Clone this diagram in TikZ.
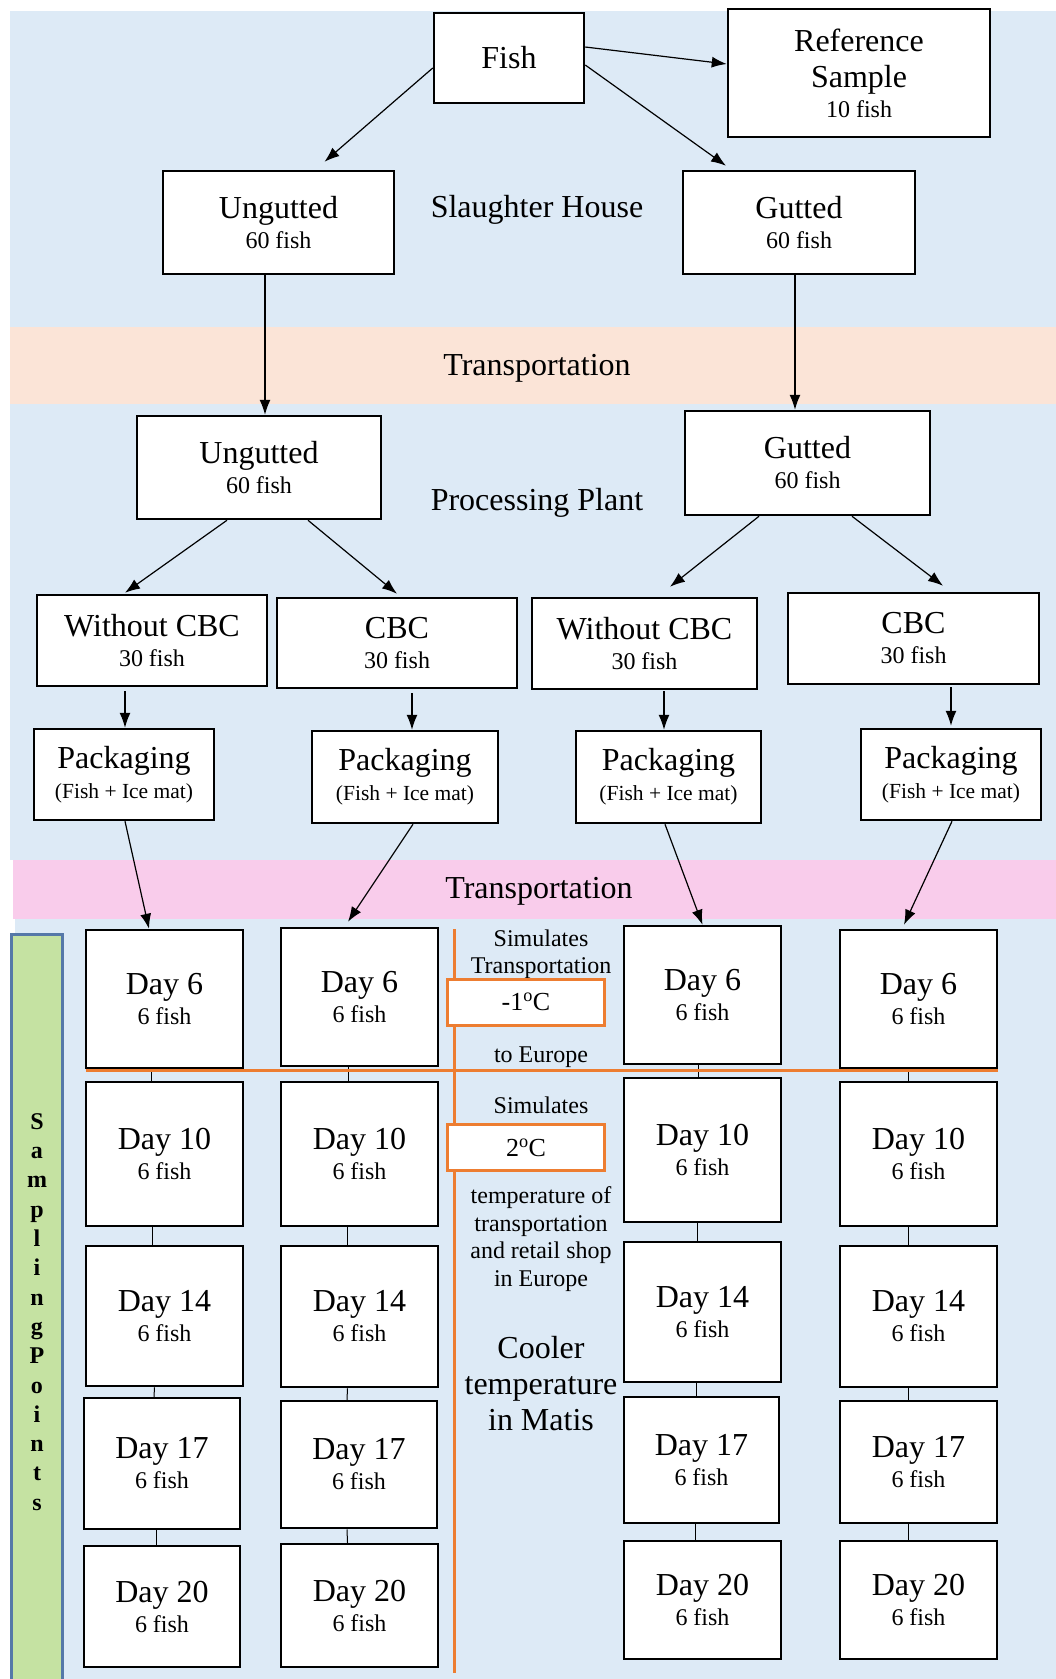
\documentclass[tikz,border=0pt]{standalone}
\usepackage{fontspec}
\setmainfont{Liberation Serif}
\usetikzlibrary{arrows.meta, calc}

\definecolor{bandblue}{HTML}{DDEAF6}
\definecolor{bandpeach}{HTML}{FBE4D7}
\definecolor{bandpink}{HTML}{F9CCEB}
\definecolor{sampgreen}{HTML}{C5E2A2}
\definecolor{sampborder}{HTML}{5578A8}
\definecolor{templine}{HTML}{ED7D31}

\newcommand{\bigtxt}{\fontsize{32}{36}\selectfont}
\newcommand{\smalltxt}{\fontsize{24}{28}\selectfont}
\newcommand{\packtxt}{\fontsize{21.5}{26}\selectfont}
\newcommand{\notetxt}{\fontsize{24}{27.5}\selectfont}

\tikzset{
    my-box/.style={
        draw, line width=2.5pt, fill=white, align=center, inner sep=0pt, font=\bigtxt
    },
    my-temp-box/.style={
        draw=templine, line width=3pt, fill=white, align=center, inner sep=0pt,
        minimum width=157pt, minimum height=46pt, font=\fontsize{26}{30}\selectfont
    },
    my-arrow/.style={
        -{Latex[length=15pt, width=11pt]}, line width=1.2pt
    },
    my-link/.style={
        line width=1pt
    },
    my-note/.style={
        align=center, inner sep=0pt, font=\notetxt
    },
    my-band-label/.style={
        inner sep=0pt, font=\bigtxt
    },
}

\begin{document}
\begin{tikzpicture}[x=1pt, y=-1pt]

        \useasboundingbox (0,0) rectangle (1056,1679);

        % BACKGROUND BANDS ----------------------------------------------------------------------------
        \fill[bandblue]  (10,11)  rectangle (1056,327);
        \fill[bandpeach] (10,327) rectangle (1056,404);
        \fill[bandblue]  (10,404) rectangle (1056,860);
        \fill[bandpink]  (13,860) rectangle (1056,919);
        \fill[bandblue]  (15,919) rectangle (1056,1679);
        \filldraw[fill=sampgreen, draw=sampborder, line width=3pt] (11,934) rectangle (62,1690);

        % BAND LABELS
        \node[my-band-label] (SLAUGHTER)  at (537,210) {Slaughter House};
        \node[my-band-label] (TRANSPORT1) at (537,368) {Transportation};
        \node[my-band-label] (PROCESSING) at (537,503) {Processing Plant};
        \node[my-band-label] (TRANSPORT2) at (539,891) {Transportation};

        % SLAUGHTER HOUSE -----------------------------------------------------------------------------
        \node[my-box, minimum width=150pt, minimum height=90pt]  (FISH) at (509,58)    {Fish};
        \node[my-box, minimum width=262pt, minimum height=128pt] (REF)  at (859,73)    {Reference\\Sample\\[-6pt]{\smalltxt 10 fish}};
        \node[my-box, minimum width=231pt, minimum height=103pt] (UNG1) at (278.5,222.5) {Ungutted\\[-6pt]{\smalltxt 60 fish}};
        \node[my-box, minimum width=232pt, minimum height=103pt] (GUT1) at (799,222.5) {Gutted\\[-6pt]{\smalltxt 60 fish}};

        % PROCESSING PLANT ----------------------------------------------------------------------------
        \node[my-box, minimum width=244pt, minimum height=103pt] (UNG2)  at (259,467.5)   {Ungutted\\[-6pt]{\smalltxt 60 fish}};
        \node[my-box, minimum width=245pt, minimum height=104pt] (GUT2)  at (807.5,463)   {Gutted\\[-6pt]{\smalltxt 60 fish}};
        \node[my-box, minimum width=230pt, minimum height=91pt]  (WCBC1) at (152,640.5)   {Without CBC\\[-6pt]{\smalltxt 30 fish}};
        \node[my-box, minimum width=240pt, minimum height=90pt]  (CBC1)  at (397,643)     {CBC\\[-6pt]{\smalltxt 30 fish}};
        \node[my-box, minimum width=225pt, minimum height=91pt]  (WCBC2) at (644.5,643.5) {Without CBC\\[-6pt]{\smalltxt 30 fish}};
        \node[my-box, minimum width=251pt, minimum height=91pt]  (CBC2)  at (913.5,638.5) {CBC\\[-6pt]{\smalltxt 30 fish}};

        % PACKAGING
        \node[my-box, minimum width=180pt, minimum height=91pt] (PACK1) at (124,774.5)   {Packaging\\[-6pt]{\packtxt (Fish + Ice mat)}};
        \node[my-box, minimum width=186pt, minimum height=92pt] (PACK2) at (405,777)     {Packaging\\[-6pt]{\packtxt (Fish + Ice mat)}};
        \node[my-box, minimum width=185pt, minimum height=92pt] (PACK3) at (668.5,777)   {Packaging\\[-6pt]{\packtxt (Fish + Ice mat)}};
        \node[my-box, minimum width=180pt, minimum height=91pt] (PACK4) at (951,774.5)   {Packaging\\[-6pt]{\packtxt (Fish + Ice mat)}};

        % SAMPLING POINTS - COLUMN A (UNGUTTED, WITHOUT CBC)
        \node[my-box, minimum width=157pt, minimum height=138pt] (D6A)  at (164.5,999)    {Day 6\\[-6pt]{\smalltxt 6 fish}};
        \node[my-box, minimum width=157pt, minimum height=144pt] (D10A) at (164.5,1154)   {Day 10\\[-6pt]{\smalltxt 6 fish}};
        \node[my-box, minimum width=157pt, minimum height=140pt] (D14A) at (164.5,1316)   {Day 14\\[-6pt]{\smalltxt 6 fish}};
        \node[my-box, minimum width=156pt, minimum height=131pt] (D17A) at (162,1463.5)   {Day 17\\[-6pt]{\smalltxt 6 fish}};
        \node[my-box, minimum width=156pt, minimum height=121pt] (D20A) at (162,1606.5)   {Day 20\\[-6pt]{\smalltxt 6 fish}};

        % SAMPLING POINTS - COLUMN B (UNGUTTED, CBC)
        \node[my-box, minimum width=157pt, minimum height=138pt] (D6B)  at (359.5,997)    {Day 6\\[-6pt]{\smalltxt 6 fish}};
        \node[my-box, minimum width=157pt, minimum height=144pt] (D10B) at (359.5,1154)   {Day 10\\[-6pt]{\smalltxt 6 fish}};
        \node[my-box, minimum width=157pt, minimum height=141pt] (D14B) at (359.5,1316.5) {Day 14\\[-6pt]{\smalltxt 6 fish}};
        \node[my-box, minimum width=156pt, minimum height=127pt] (D17B) at (359,1464.5)   {Day 17\\[-6pt]{\smalltxt 6 fish}};
        \node[my-box, minimum width=157pt, minimum height=123pt] (D20B) at (359.5,1605.5) {Day 20\\[-6pt]{\smalltxt 6 fish}};

        % SAMPLING POINTS - COLUMN C (GUTTED, WITHOUT CBC)
        \node[my-box, minimum width=157pt, minimum height=138pt] (D6C)  at (702.5,995)    {Day 6\\[-6pt]{\smalltxt 6 fish}};
        \node[my-box, minimum width=157pt, minimum height=144pt] (D10C) at (702.5,1150)   {Day 10\\[-6pt]{\smalltxt 6 fish}};
        \node[my-box, minimum width=157pt, minimum height=140pt] (D14C) at (702.5,1312)   {Day 14\\[-6pt]{\smalltxt 6 fish}};
        \node[my-box, minimum width=155pt, minimum height=126pt] (D17C) at (701.5,1460)   {Day 17\\[-6pt]{\smalltxt 6 fish}};
        \node[my-box, minimum width=157pt, minimum height=118pt] (D20C) at (702.5,1600)   {Day 20\\[-6pt]{\smalltxt 6 fish}};

        % SAMPLING POINTS - COLUMN D (GUTTED, CBC)
        \node[my-box, minimum width=157pt, minimum height=138pt] (D6D)  at (918.5,999)    {Day 6\\[-6pt]{\smalltxt 6 fish}};
        \node[my-box, minimum width=157pt, minimum height=144pt] (D10D) at (918.5,1154)   {Day 10\\[-6pt]{\smalltxt 6 fish}};
        \node[my-box, minimum width=157pt, minimum height=141pt] (D14D) at (918.5,1316.5) {Day 14\\[-6pt]{\smalltxt 6 fish}};
        \node[my-box, minimum width=157pt, minimum height=122pt] (D17D) at (918.5,1462)   {Day 17\\[-6pt]{\smalltxt 6 fish}};
        \node[my-box, minimum width=157pt, minimum height=118pt] (D20D) at (918.5,1600)   {Day 20\\[-6pt]{\smalltxt 6 fish}};

        % ARROWS - SLAUGHTER HOUSE
        \draw[my-arrow] ($(FISH.east) + (0,-11)$) -- ($(REF.west) + (0,-9)$);
        \draw[my-arrow] ($(FISH.west) + (0,10)$)  -- ($(UNG1.north) + (46,-8)$);
        \draw[my-arrow] ($(FISH.east) + (0,7)$)   -- ($(GUT1.north) + (-73,-4)$);

        % ARROWS - TRANSPORTATION
        \draw[my-arrow] ($(UNG1.south) + (-13.5,0)$) -- ($(UNG2.north) + (6,0)$);
        \draw[my-arrow] ($(GUT1.south) + (-4,0)$)    -- ($(GUT2.north) + (-12.5,0)$);

        % ARROWS - PROCESSING PLANT
        \draw[my-arrow] ($(UNG2.south) + (-32,0)$)   -- ($(WCBC1.north) + (-27,-1)$);
        \draw[my-arrow] ($(UNG2.south) + (49,0)$)    -- ($(CBC1.north) + (0,-3)$);
        \draw[my-arrow] ($(GUT2.south) + (-48.5,0)$) -- ($(WCBC2.north) + (25.5,-10)$);
        \draw[my-arrow] ($(GUT2.south) + (44.5,0)$)  -- ($(CBC2.north) + (29.5,-6)$);

        \draw[my-arrow] ($(WCBC1.south) + (-27,4)$)  -- ($(PACK1.north) + (1,0)$);
        \draw[my-arrow] ($(CBC1.south) + (15,4)$)    -- ($(PACK2.north) + (7,0)$);
        \draw[my-arrow] ($(WCBC2.south) + (19.5,1)$) -- ($(PACK3.north) + (-4.5,0)$);
        \draw[my-arrow] ($(CBC2.south) + (37.5,2)$)  -- ($(PACK4.north) + (0,-2)$);

        % ARROWS - TRANSPORTATION TO SAMPLING
        \draw[my-arrow] ($(PACK1.south) + (1,0)$)    -- ($(D6A.north) + (-15.5,0)$);
        \draw[my-arrow] ($(PACK2.south) + (8,0)$)    -- ($(D6B.north) + (-11.5,-5)$);
        \draw[my-arrow] ($(PACK3.south) + (-3.5,0)$) -- ($(D6C.north) + (0,0)$);
        \draw[my-arrow] ($(PACK4.south) + (1,0)$)    -- ($(D6D.north) + (-14.5,-4)$);

        % LINKS BETWEEN SAMPLING DAYS
        \draw[my-link] ($(D6A.south) + (-13,0)$)  -- ($(D10A.north) + (-13,0)$);
        \draw[my-link] ($(D10A.south) + (-12,0)$) -- ($(D14A.north) + (-12,0)$);
        \draw[my-link] ($(D14A.south) + (-10,0)$) -- ($(D17A.north) + (-8,0)$);
        \draw[my-link] ($(D17A.south) + (-6,0)$)  -- ($(D20A.north) + (-6,0)$);

        \draw[my-link] ($(D6B.south) + (-11,0)$)  -- ($(D10B.north) + (-11,0)$);
        \draw[my-link] ($(D10B.south) + (-12,0)$) -- ($(D14B.north) + (-12,0)$);
        \draw[my-link] ($(D14B.south) + (-12,0)$) -- ($(D17B.north) + (-12,0)$);
        \draw[my-link] ($(D17B.south) + (-12,0)$) -- ($(D20B.north) + (-12,0)$);

        \draw[my-link] ($(D6C.south) + (-4,0)$)   -- ($(D10C.north) + (-4,0)$);
        \draw[my-link] ($(D10C.south) + (-5,0)$)  -- ($(D14C.north) + (-5,0)$);
        \draw[my-link] ($(D14C.south) + (-6,0)$)  -- ($(D17C.north) + (-5,0)$);
        \draw[my-link] ($(D17C.south) + (-6,0)$)  -- ($(D20C.north) + (-7,0)$);

        \draw[my-link] ($(D6D.south) + (-10.5,0)$)  -- ($(D10D.north) + (-10.5,0)$);
        \draw[my-link] ($(D10D.south) + (-10.5,0)$) -- ($(D14D.north) + (-10.5,0)$);
        \draw[my-link] ($(D14D.south) + (-10.5,0)$) -- ($(D17D.north) + (-10.5,0)$);
        \draw[my-link] ($(D17D.south) + (-10.5,0)$) -- ($(D20D.north) + (-10.5,0)$);

        % TEMPERATURE DIVIDERS -----------------------------------------------------------------------
        \coordinate (VTOP) at (454,929);
        \coordinate (VBOT) at (454,1673);
        \coordinate (HLEFT)  at (86,1070);
        \coordinate (HRIGHT) at (998,1070);
        \draw[templine, line width=3pt] (VTOP) -- (VBOT);
        \draw[templine, line width=3pt] (HLEFT) -- (HRIGHT);

        % TEMPERATURE NOTES
        \node[my-note] (SIM1)   at (541,954)  {Simulates\\Transportation};
        \node[my-temp-box] (TEMP1) at (526,1002) {-1\textsuperscript{o}C};
        \node[my-note] (EUROPE) at (541,1057) {to Europe};
        \node[my-note] (SIM2)   at (541,1105) {Simulates};
        \node[my-temp-box] (TEMP2) at (526,1147.5) {2\textsuperscript{o}C};
        \node[my-note] (RETAIL) at (541,1239) {temperature of\\transportation\\and retail shop\\in Europe};
        \node[my-box, draw=none, fill=none] (MATIS) at (541,1384) {Cooler\\temperature\\in Matis};

        % SAMPLING POINTS LABEL
        \node[align=center, inner sep=0pt, font=\bfseries\fontsize{24}{29.3}\selectfont] (SAMPLING) at (37,1312)
            {S\\a\\m\\p\\l\\i\\n\\g\\P\\o\\i\\n\\t\\s};

    \end{tikzpicture}
\end{document}
